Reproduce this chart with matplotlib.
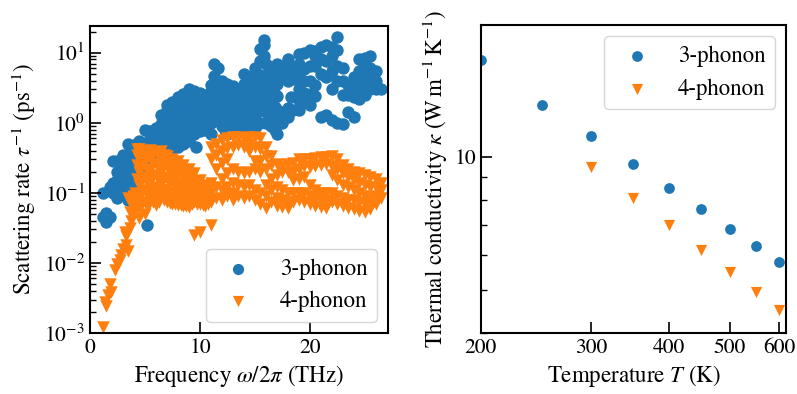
import matplotlib
matplotlib.use("Agg")
import matplotlib.pyplot as plt
from matplotlib.ticker import FixedLocator, NullLocator, LogLocator, NullFormatter, ScalarFormatter

plt.rcParams["font.family"] = "STIXGeneral"
plt.rcParams["mathtext.fontset"] = "stix"
plt.rcParams["font.size"] = 16.5
plt.rcParams["axes.linewidth"] = 1.5

# --- scattering rates vs frequency (columns of modes sharing a frequency) ---
three_col_freq = [1.2, 1.5, 1.8, 2.1, 2.5, 3.0, 3.5, 4.0, 4.5, 5.0, 5.5, 6.0, 6.5, 7.0,
                  7.5, 8.0, 8.5, 9.0, 9.5, 10.0, 10.5, 11.0, 11.3, 11.6, 12.0, 12.5,
                  13.0, 13.5, 14.0, 14.5, 15.0, 15.5, 15.8, 16.0, 16.5, 17.0, 17.5,
                  18.0, 18.3, 18.5, 19.0, 19.5, 20.0, 20.5, 21.0, 21.5, 22.0, 22.5,
                  23.0, 23.5, 24.0, 24.5, 25.0, 25.5, 26.0, 26.5, 5.2, 9.6,
                  2.8, 3.3, 3.8, 4.3, 12.3, 12.8, 13.3, 14.3, 14.8, 16.3, 16.8]
three_col_rate = [
    [0.045, 0.1], [0.038, 0.052], [0.045, 0.12], [0.1, 0.14, 0.28],
    [0.085, 0.15, 0.2, 0.28], [0.1, 0.13, 0.19, 0.26, 0.35],
    [0.08, 0.12, 0.17, 0.24, 0.35, 0.5], [0.15, 0.21, 0.3, 0.42, 0.48],
    [0.2, 0.28, 0.38, 0.55], [0.25, 0.35, 0.5, 0.78], [0.3, 0.42, 0.6, 0.75],
    [0.32, 0.45, 0.62, 0.85], [0.36, 0.5, 0.7, 0.95, 1.3],
    [0.38, 0.55, 0.8, 1.1, 1.5, 1.8], [0.42, 0.6, 0.85, 1.2, 1.6, 2.0],
    [0.45, 0.65, 0.95, 1.3, 1.8, 2.3], [0.5, 0.72, 1.0, 1.4, 2.0, 2.6],
    [0.55, 0.8, 1.1, 1.6, 2.2, 3.0], [0.7, 0.9, 1.3, 1.9, 2.8],
    [0.75, 1.0, 1.4, 2.0, 2.7], [0.8, 1.1, 1.5, 2.1, 2.5],
    [0.7, 1.0, 1.4, 2.0, 2.8, 3.5], [1.5, 2.2, 3.2, 4.6, 7.0],
    [1.2, 1.8, 2.6, 3.8, 6.0], [0.9, 1.3, 1.9, 2.8, 4.0],
    [0.7, 1.0, 1.5, 2.3, 3.6], [0.8, 1.2, 1.8, 2.6, 3.3],
    [0.9, 1.3, 1.9, 2.6, 3.0], [0.8, 1.2, 1.7, 2.5, 3.6, 5.0],
    [0.9, 1.3, 1.9, 2.6, 3.5], [0.85, 1.2, 1.8, 2.7, 4.0, 6.0],
    [1.0, 1.5, 2.2, 3.2, 4.8, 7.5, 11.4], [9.0, 13.0, 15.0],
    [1.0, 1.4, 2.0, 3.0, 4.5, 7.0], [0.9, 1.3, 1.9, 2.8, 4.2, 6.3],
    [0.7, 1.0, 1.5, 2.4, 3.6, 5.5, 7.0], [1.0, 1.4, 4.8, 6.5],
    [1.2, 1.6, 4.0, 5.5, 8.0], [2.3], [1.5, 4.2, 6.0],
    [1.5, 2.1, 3.0, 4.5, 6.8, 9.7], [2.0, 2.7, 3.9, 5.8, 10.0],
    [1.8, 2.6, 4.0, 6.5, 11.0], [2.4, 3.5, 6.5, 9.0, 10.5],
    [1.2, 5.0, 8.0, 12.0], [1.3, 4.5, 7.5, 13.0], [1.1, 3.0, 5.5, 9.0, 12.0],
    [1.0, 4.0, 6.5, 11.0, 17.0], [0.95, 2.5, 4.0, 6.0], [1.4, 2.5, 3.5],
    [1.2, 2.3, 3.2, 4.5], [2.2, 3.0, 4.0, 5.5, 8.0], [2.5, 3.5, 5.0, 7.0, 8.5],
    [3.0, 4.2, 6.0, 9.0], [3.0, 4.0, 5.5], [3.0], [0.035], [0.45],
    [0.11, 0.17, 0.24], [0.09, 0.15, 0.22, 0.3], [0.13, 0.19, 0.27, 0.4],
    [0.17, 0.25, 0.34, 0.5], [0.8, 1.1, 1.6, 2.4, 3.2], [0.75, 1.1, 1.6, 2.2, 3.0],
    [0.85, 1.25, 2.1, 2.9], [0.85, 1.1, 1.5, 2.2, 3.1, 4.2],
    [0.9, 1.4, 2.1, 3.1, 4.8], [1.2, 1.7, 2.5, 3.6, 5.2], [0.8, 1.2, 1.7, 2.6, 4.0]
]

four_col_freq = [1.2, 1.35, 1.5, 1.65, 1.8, 1.95, 2.25, 2.45, 2.7, 2.85, 3.0, 3.15,
                 3.3, 3.45, 3.6, 3.75, 3.9, 4.1, 4.3,
                 4.5, 5.0, 5.5, 6.0, 6.5, 7.0, 7.5, 8.0, 8.5, 9.0, 9.5, 10.0, 10.5,
                 11.0, 11.5, 12.0, 12.5, 13.0, 13.5, 14.0, 14.5, 15.0, 15.5, 16.0,
                 16.5, 17.0, 17.5, 18.0, 18.5, 19.0, 19.5, 20.0, 20.5, 21.0, 21.5,
                 22.0, 22.5, 23.0, 23.5, 24.0, 24.5, 25.0, 25.5, 26.0, 26.5,
                 4.75, 5.25, 5.75, 6.25, 6.75, 7.25, 7.75, 8.25, 8.75, 9.25, 9.75,
                 10.25, 10.75]
four_col_rate = [
    [0.0012], [0.0028], [0.0024], [0.0035], [0.005], [0.0038], [0.008],
    [0.0095], [0.011], [0.013], [0.016], [0.028], [0.018, 0.024],
    [0.015, 0.084], [0.032, 0.054], [0.039, 0.07], [0.05, 0.09], [0.06, 0.1],
    [0.085, 0.16, 0.25, 0.35, 0.42],
    [0.044, 0.06, 0.09, 0.13, 0.2, 0.3, 0.42], [0.05, 0.075, 0.11, 0.17, 0.28, 0.4],
    [0.08, 0.1, 0.15, 0.22, 0.31, 0.41], [0.068, 0.085, 0.12, 0.18, 0.26, 0.38],
    [0.09, 0.13, 0.2, 0.29, 0.39], [0.075, 0.11, 0.16, 0.24, 0.33],
    [0.07, 0.1, 0.15, 0.22, 0.3], [0.068, 0.09, 0.13, 0.19, 0.28],
    [0.065, 0.085, 0.12, 0.17, 0.25], [0.062, 0.08, 0.11, 0.15, 0.22],
    [0.025, 0.075, 0.1, 0.13, 0.19], [0.028, 0.07, 0.085, 0.11, 0.15],
    [0.065, 0.08, 0.1, 0.13], [0.035, 0.075, 0.1, 0.14, 0.3, 0.45],
    [0.085, 0.12, 0.22, 0.35, 0.5], [0.08, 0.11, 0.16, 0.27, 0.4, 0.56],
    [0.09, 0.12, 0.19, 0.3, 0.44, 0.6], [0.08, 0.1, 0.14, 0.22, 0.45, 0.62],
    [0.09, 0.13, 0.2, 0.48, 0.63], [0.085, 0.12, 0.19, 0.45, 0.6],
    [0.09, 0.13, 0.2, 0.4, 0.5, 0.63], [0.08, 0.11, 0.22, 0.28, 0.45, 0.62],
    [0.07, 0.1, 0.2, 0.28, 0.42, 0.6], [0.06, 0.09, 0.13, 0.22, 0.33, 0.45],
    [0.075, 0.11, 0.16, 0.25, 0.33], [0.065, 0.085, 0.12, 0.18, 0.26],
    [0.062, 0.08, 0.11, 0.2, 0.24], [0.06, 0.075, 0.1, 0.2, 0.26],
    [0.075, 0.1, 0.15, 0.2, 0.27], [0.08, 0.1, 0.16, 0.22, 0.3],
    [0.075, 0.1, 0.17, 0.24, 0.3], [0.07, 0.09, 0.13, 0.23, 0.3],
    [0.065, 0.085, 0.11, 0.24, 0.31], [0.063, 0.08, 0.1, 0.25, 0.32],
    [0.06, 0.08, 0.1, 0.26, 0.32], [0.075, 0.1, 0.18, 0.24, 0.33],
    [0.07, 0.09, 0.15, 0.22, 0.3], [0.065, 0.085, 0.13, 0.19, 0.25],
    [0.06, 0.08, 0.12, 0.17, 0.22], [0.058, 0.08, 0.11, 0.15, 0.2],
    [0.055, 0.075, 0.1, 0.14, 0.19], [0.054, 0.07, 0.09, 0.13, 0.18],
    [0.058, 0.065, 0.085, 0.12, 0.17], [0.07, 0.09, 0.12, 0.16],
    [0.085, 0.11, 0.14],
    [0.07, 0.1, 0.15, 0.24, 0.35], [0.065, 0.09, 0.13, 0.2, 0.33],
    [0.075, 0.11, 0.17, 0.26, 0.36], [0.075, 0.1, 0.15, 0.22, 0.32],
    [0.08, 0.11, 0.17, 0.25, 0.35], [0.072, 0.1, 0.14, 0.2, 0.28],
    [0.07, 0.095, 0.13, 0.18, 0.26], [0.066, 0.1, 0.14, 0.21],
    [0.064, 0.09, 0.13, 0.19], [0.07, 0.09, 0.12, 0.17],
    [0.07, 0.09, 0.12, 0.14], [0.068, 0.09, 0.11], [0.07, 0.09, 0.12]
]

# --- thermal conductivity vs temperature ---
temp_three = [200, 250, 300, 350, 400, 450, 500, 550, 600]
kappa_three = [16.5, 13.1, 11.1, 9.6, 8.5, 7.6, 6.88, 6.29, 5.79]
temp_four = [300, 350, 400, 450, 500, 550, 600]
kappa_four = [9.49, 8.06, 7.0, 6.16, 5.49, 4.94, 4.5]

blue = "#1f77b4"
orange = "#ff7f0e"


def expand(col_freq, col_rate):
    xs, ys = [], []
    for f, rates in zip(col_freq, col_rate):
        for r in rates:
            xs.append(f)
            ys.append(r)
    return xs, ys


three_f, three_r = expand(three_col_freq, three_col_rate)
four_f, four_r = expand(four_col_freq, four_col_rate)

fig = plt.figure(figsize=(7.97, 3.94), dpi=100)
ax1 = fig.add_axes([0.1129, 0.1548, 0.3739, 0.7792])
ax2 = fig.add_axes([0.6035, 0.1548, 0.3827, 0.7817])

ax1.scatter(three_f, three_r, s=80, color=blue, marker="o", lw=0, label="3-phonon")
ax1.scatter(four_f, four_r, s=80, color=orange, marker="v", lw=0, label="4-phonon")
ax1.set_yscale("log")
ax1.set_xlim(0, 27.1)
ax1.set_ylim(1e-3, 24)
ax1.set_xlabel(r"Frequency $\omega/2\pi$ (THz)")
ax1.set_ylabel(r"Scattering rate $\tau^{-1}$ (ps$^{-1}$)")
ax1.yaxis.set_minor_locator(LogLocator(base=10, subs=range(2, 10), numticks=20))
ax1.yaxis.set_minor_formatter(NullFormatter())
ax1.set_xticks([0, 10, 20])
ax1.legend(loc="lower right", markerscale=0.9)

ax2.scatter(temp_three, kappa_three, s=60, color=blue, marker="o", lw=0, label="3-phonon")
ax2.scatter(temp_four, kappa_four, s=65, color=orange, marker="v", lw=0, label="4-phonon")
ax2.set_xscale("log")
ax2.set_yscale("log")
ax2.set_xlim(200, 615)
ax2.set_ylim(4, 19.8)
ax2.xaxis.set_major_locator(FixedLocator([200, 300, 400, 500, 600]))
ax2.xaxis.set_major_formatter(ScalarFormatter())
ax2.xaxis.set_minor_locator(NullLocator())
ax2.yaxis.set_major_locator(FixedLocator([10]))
ax2.yaxis.set_major_formatter(ScalarFormatter())
ax2.yaxis.set_minor_locator(FixedLocator([4, 5, 6, 7, 8, 9]))
ax2.yaxis.set_minor_formatter(NullFormatter())
ax2.set_xlabel(r"Temperature $T$ (K)")
ax2.set_ylabel(r"Thermal conductivity $\kappa$ ($\mathrm{W\,m^{-1}\,K^{-1}}$)")
ax2.legend(loc="upper right")

for ax in (ax1, ax2):
    ax.tick_params(which="major", direction="in", length=8, width=1.2, labelsize=15.5)
    ax.tick_params(which="minor", direction="in", length=4.5, width=1.0)

fig.savefig("out.png", dpi=100)
